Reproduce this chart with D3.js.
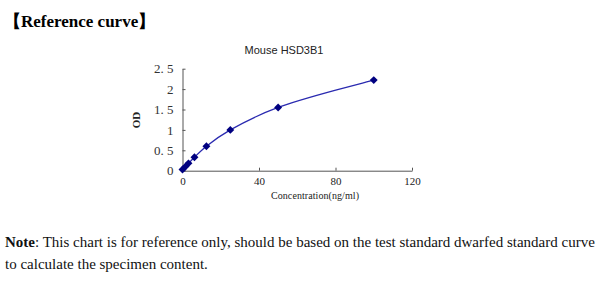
<!DOCTYPE html>
<html><head><meta charset="utf-8">
<script src="https://cdn.jsdelivr.net/npm/d3@7"></script>
<style>
body{margin:0;background:#fff;}
svg{display:block;}
</style></head>
<body>
<svg id="c" width="600" height="288"></svg>
<script>
const concentrations = [0, 1.56, 3.12, 6.25, 12.5, 25, 50, 100];
const odValues = [0.03, 0.1, 0.18, 0.33, 0.6, 1.0, 1.55, 2.22];
const xTicks = [0, 40, 80, 120];
const yTicks = [0, 0.5, 1, 1.5, 2, 2.5];
const yTickLabels = ["0", "0. 5", "1", "1. 5", "2", "2. 5"];
const chartTitle = "Mouse HSD3B1";
const xTitle = "Concentration(ng/ml)";
const yTitle = "OD";

const svg = d3.select("#c");
const x = d3.scaleLinear().domain([0, 120]).range([182.5, 412]);
const y = d3.scaleLinear().domain([0, 2.5]).range([170.7, 68.7]);

// header
svg.append("text").attr("x", 4).attr("y", 27)
  .attr("font-family", "Liberation Serif, serif").attr("font-weight", "bold")
  .attr("font-size", 17).attr("fill", "#000").text("【Reference curve】");

// title
svg.append("text").attr("x", 284).attr("y", 54).attr("text-anchor", "middle")
  .attr("font-family", "Liberation Sans, Arial, sans-serif").attr("font-size", 11)
  .attr("fill", "#222").text(chartTitle);

// axes
const xAxis = d3.axisBottom(x).tickValues(xTicks).tickSizeInner(-3).tickSizeOuter(0).tickPadding(7);
const gx = svg.append("g").attr("transform", `translate(0,${y(0)})`).call(xAxis);
gx.select(".domain").attr("stroke", "#555");
gx.selectAll(".tick line").attr("stroke", "#555");
gx.selectAll(".tick text").attr("font-family", "Liberation Serif, serif").attr("font-size", 11).attr("fill", "#222");

const yAxis = d3.axisLeft(y).tickValues(yTicks).tickFormat((d, i) => yTickLabels[i]).tickSizeInner(-3).tickSizeOuter(0).tickPadding(9);
const gy = svg.append("g").attr("transform", `translate(${x(0)},0)`).call(yAxis);
gy.select(".domain").attr("stroke", "#555");
gy.selectAll(".tick line").attr("stroke", "#555");
gy.selectAll(".tick text").attr("font-family", "Liberation Serif, serif").attr("font-size", 13).attr("fill", "#333");

// axis titles
svg.append("text").attr("x", 315).attr("y", 199).attr("text-anchor", "middle")
  .attr("font-family", "Liberation Serif, serif").attr("font-size", 10).attr("fill", "#222")
  .attr("textLength", 88).text(xTitle);
svg.append("text").attr("transform", "translate(140,120) rotate(-90)").attr("text-anchor", "middle")
  .attr("font-family", "Liberation Serif, serif").attr("font-weight", "bold").attr("font-size", 11)
  .attr("fill", "#222").text(yTitle);

// curve
const pts = concentrations.map((c, i) => [c, odValues[i]]);
const line = d3.line().x(d => x(d[0])).y(d => y(d[1])).curve(d3.curveCatmullRom);
svg.append("path").attr("d", line(pts)).attr("fill", "none").attr("stroke", "#2a2ab0").attr("stroke-width", 1.3);

svg.selectAll(".pt").data(pts).enter().append("path")
  .attr("class", "pt")
  .attr("transform", d => `translate(${x(d[0])},${y(d[1])})`)
  .attr("d", d3.symbol().type(d3.symbolDiamond2).size(40))
  .attr("fill", "#000080");

// note
const note = svg.append("text").attr("x", 5).attr("y", 247)
  .attr("font-family", "Liberation Serif, serif").attr("font-size", 15).attr("fill", "#111");
note.append("tspan").attr("font-weight", "bold").text("Note");
note.append("tspan").text(": This chart is for reference only, should be based on the test standard dwarfed standard curve");
svg.append("text").attr("x", 5).attr("y", 269)
  .attr("font-family", "Liberation Serif, serif").attr("font-size", 15).attr("fill", "#111")
  .text("to calculate the specimen content.");
</script>
</body></html>
